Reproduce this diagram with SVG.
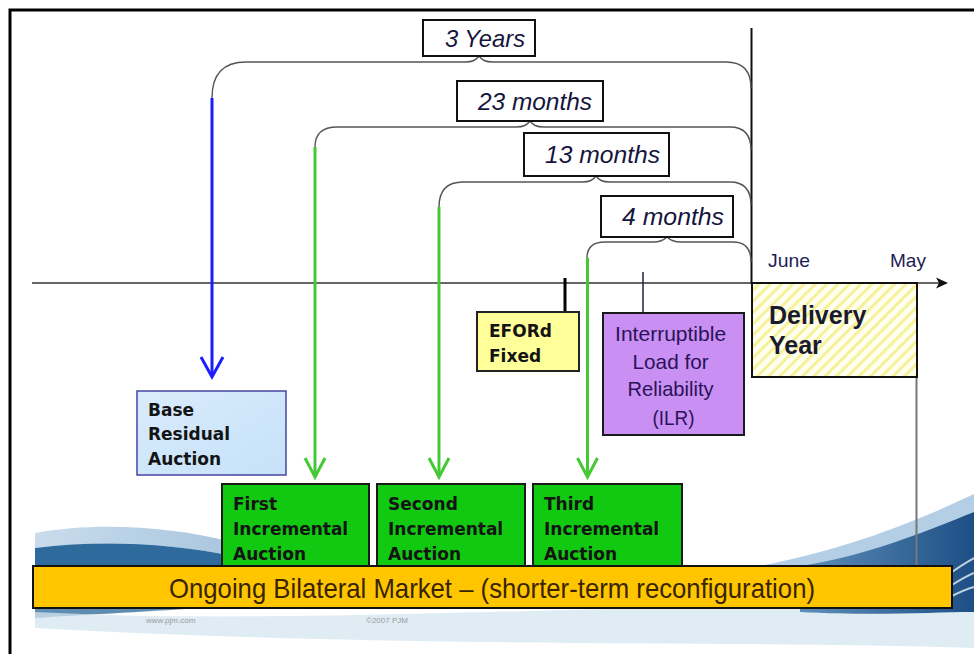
<svg xmlns="http://www.w3.org/2000/svg" width="974" height="654" viewBox="0 0 974 654">
  <defs>
    <pattern id="hatch" width="8" height="8" patternUnits="userSpaceOnUse" patternTransform="rotate(45)">
      <rect width="8" height="8" fill="#fffff0"/>
      <rect width="3" height="8" fill="#f6f19a"/>
    </pattern>
    <linearGradient id="baseFill" x1="0" y1="0" x2="1" y2="1">
      <stop offset="0" stop-color="#d9ecfc"/>
      <stop offset="1" stop-color="#c6e1f8"/>
    </linearGradient>
    <linearGradient id="waveDark" x1="0" y1="0" x2="1" y2="0">
      <stop offset="0" stop-color="#5f8fb8"/>
      <stop offset="1" stop-color="#1d4f86"/>
    </linearGradient>
    <linearGradient id="waveLight" x1="0" y1="0" x2="1" y2="0">
      <stop offset="0" stop-color="#c9dcec"/>
      <stop offset="1" stop-color="#a9c6df"/>
    </linearGradient>
  </defs>
  <style>
    .frame { fill: none; stroke: #000; stroke-width: 3; }
    .brace { fill: none; stroke: #555; stroke-width: 1.4; }
    .span { fill: #fff; stroke: #111; stroke-width: 2; }
    .spanText { font-family: "Liberation Sans", Arial, sans-serif; font-style: italic; font-size: 24px; fill: #15153d; }
    .bold { font-family: "DejaVu Sans", Verdana, sans-serif; font-weight: bold; font-size: 17px; fill: #141414; }
    .green { fill: #10c910; stroke: #1a1a1a; stroke-width: 2; }
    .blueArrow { fill: none; stroke: #1c1cff; stroke-width: 3; }
    .greenArrow { fill: none; stroke: #44c934; stroke-width: 3; }
    .month { font-family: "Liberation Sans", Arial, sans-serif; font-size: 19px; fill: #1d1d55; }
  </style>

  <!-- background swoosh -->
  <g id="wave">
    <path d="M35,533 C95,522 170,526 232,542 L232,556 C170,543 100,540 35,548 Z" fill="url(#waveLight)"/>
    <path d="M35,548 C100,540 170,543 232,556 L232,566 L35,566 Z" fill="#2f6a9c"/>
    <path d="M35,608 L200,608 C140,612 80,615 35,618 Z" fill="#3a6f9e" opacity="0.8"/>
    <path d="M35,612 C300,626 600,602 974,606 L974,648 C700,640 400,648 35,628 Z" fill="#d6e5f0" opacity="0.75"/>
    <path d="M760,566 C850,548 915,522 974,494 L974,512 C920,538 860,558 800,566 Z" fill="#b4cfe5"/>
    <path d="M800,566 C865,556 920,534 974,512 L974,612 C930,612 880,616 800,612 Z" fill="url(#waveDark)"/>
    <path d="M952,585 C960,580 967,576 974,573 M952,596 C960,592 967,589 974,587 M952,572 C960,566 967,562 974,558" fill="none" stroke="#e8f1f8" stroke-width="2" opacity="0.8"/>
  </g>

  <!-- outer frame -->
  <path class="frame" d="M10,654 L10,10 L974,10"/>

  <!-- footer -->
  <g id="footer" font-family="Liberation Sans, Arial, sans-serif" font-size="8" fill="#9a9a9a">
    <text x="146" y="623">www.pjm.com</text>
    <text x="366" y="623">©2007 PJM</text>
  </g>

  <!-- connectors: time axis, brackets and arrows -->
  <g id="connectors">
    <line x1="32" y1="283" x2="940" y2="283" stroke="#333" stroke-width="1.6"/>
    <path d="M936,277.5 L948,283 L936,288.5 L939,283 Z" fill="#111"/>
    <line x1="751.5" y1="28" x2="751.5" y2="284" stroke="#111" stroke-width="2"/>
    <line x1="916.5" y1="377" x2="916.5" y2="566" stroke="#777" stroke-width="2"/>

    <!-- span brackets -->
    <path class="brace" d="M212,98 Q212,62 246,62 L465,62 C473,62 476,60 479,56 C482,60 485,62 493,62 L726,62 Q751,62 751,88"/>
    <path class="brace" d="M315,147 Q315,127 337,127 L516,127 C524,127 527,125 530,121 C533,125 536,127 544,127 L730,127 Q751,127 751,150"/>
    <path class="brace" d="M439,207 Q439,182 463,182 L582,182 C590,182 593,180 596,176 C599,180 602,182 610,182 L730,182 Q751,182 751,205"/>
    <path class="brace" d="M587,258 Q587,242 605,242 L653,242 C661,242 664,240 667,237 C670,240 673,242 681,242 L733,242 Q751,242 751,262"/>

    <!-- auction arrows -->
    <line class="blueArrow" x1="212" y1="98" x2="212" y2="376"/>
    <path class="blueArrow" d="M201,357 L212,377 L223,357"/>
    <line class="greenArrow" x1="315" y1="147" x2="315" y2="476"/>
    <path class="greenArrow" d="M305,458 L315,477 L325,458"/>
    <line class="greenArrow" x1="439" y1="207" x2="439" y2="476"/>
    <path class="greenArrow" d="M429,458 L439,477 L449,458"/>
    <line class="greenArrow" x1="587.5" y1="258" x2="587.5" y2="476"/>
    <path class="greenArrow" d="M577.5,458 L587.5,477 L597.5,458"/>

    <!-- milestone ticks -->
    <line x1="565" y1="278" x2="565" y2="312" stroke="#000" stroke-width="3"/>
    <line x1="643" y1="272" x2="643" y2="313" stroke="#22224a" stroke-width="1.5"/>
  </g>

  <!-- span labels -->
  <g id="span-3-years">
    <rect class="span" x="423" y="20" width="112" height="36"/>
    <text class="spanText" x="445" y="47" textLength="80" lengthAdjust="spacingAndGlyphs">3 Years</text>
  </g>
  <g id="span-23-months">
    <rect class="span" x="457" y="81" width="146" height="40"/>
    <text class="spanText" x="478" y="110" textLength="114" lengthAdjust="spacingAndGlyphs">23 months</text>
  </g>
  <g id="span-13-months">
    <rect class="span" x="524" y="133" width="145" height="43"/>
    <text class="spanText" x="545" y="163" textLength="115" lengthAdjust="spacingAndGlyphs">13 months</text>
  </g>
  <g id="span-4-months">
    <rect class="span" x="601" y="196" width="132" height="41"/>
    <text class="spanText" x="622" y="225" textLength="102" lengthAdjust="spacingAndGlyphs">4 months</text>
  </g>

  <!-- delivery year -->
  <g id="delivery-year">
    <text class="month" x="768" y="267" textLength="42" lengthAdjust="spacingAndGlyphs">June</text>
    <text class="month" x="890" y="267" textLength="36" lengthAdjust="spacingAndGlyphs">May</text>
    <rect x="752" y="283" width="165" height="94" fill="url(#hatch)" stroke="#111" stroke-width="2"/>
    <text font-family="Liberation Sans, Arial, sans-serif" font-weight="bold" font-size="25" fill="#1a1a2e">
      <tspan x="769" y="324">Delivery</tspan>
      <tspan x="769" y="354">Year</tspan>
    </text>
  </g>

  <!-- EFORd fixed -->
  <g id="eford-fixed">
    <rect x="477" y="312" width="102" height="59" fill="#ffff99" stroke="#222" stroke-width="2"/>
    <text class="bold">
      <tspan x="489" y="337">EFORd</tspan>
      <tspan x="489" y="362">Fixed</tspan>
    </text>
  </g>

  <!-- ILR -->
  <g id="ilr">
    <rect x="603" y="313" width="141" height="122" fill="#c98ff2" stroke="#1a1a1a" stroke-width="2"/>
    <text font-family="Liberation Sans, Arial, sans-serif" font-size="21" fill="#2a1358" text-anchor="middle">
      <tspan x="673.5" y="341" textLength="111" lengthAdjust="spacingAndGlyphs">Interruptible</tspan>
      <tspan x="673.5" y="369" textLength="76" lengthAdjust="spacingAndGlyphs">Load for</tspan>
      <tspan x="673.5" y="396" textLength="86" lengthAdjust="spacingAndGlyphs">Reliability</tspan>
      <tspan x="673.5" y="425" textLength="42" lengthAdjust="spacingAndGlyphs">(ILR)</tspan>
    </text>
  </g>

  <!-- base residual auction -->
  <g id="base-residual-auction">
    <rect x="137" y="391" width="149" height="84" fill="url(#baseFill)" stroke="#4545a0" stroke-width="1.5"/>
    <text class="bold">
      <tspan x="148" y="416">Base</tspan>
      <tspan x="148" y="440">Residual</tspan>
      <tspan x="148" y="465">Auction</tspan>
    </text>
  </g>

  <!-- incremental auctions -->
  <g id="first-incremental-auction">
    <rect class="green" x="222" y="484" width="147" height="88"/>
    <text class="bold" fill="#0d2a0d">
      <tspan x="233" y="510">First</tspan>
      <tspan x="233" y="535">Incremental</tspan>
      <tspan x="233" y="560">Auction</tspan>
    </text>
  </g>
  <g id="second-incremental-auction">
    <rect class="green" x="377" y="484" width="148" height="88"/>
    <text class="bold">
      <tspan x="388" y="510">Second</tspan>
      <tspan x="388" y="535">Incremental</tspan>
      <tspan x="388" y="560">Auction</tspan>
    </text>
  </g>
  <g id="third-incremental-auction">
    <rect class="green" x="533" y="484" width="149" height="88"/>
    <text class="bold">
      <tspan x="544" y="510">Third</tspan>
      <tspan x="544" y="535">Incremental</tspan>
      <tspan x="544" y="560">Auction</tspan>
    </text>
  </g>

  <!-- bilateral market bar -->
  <g id="bilateral-market">
    <rect x="33" y="566" width="919" height="42" fill="#ffc600" stroke="#111" stroke-width="2"/>
    <text x="169" y="598" font-family="Liberation Sans, Arial, sans-serif" font-size="28" fill="#3a2400" textLength="646" lengthAdjust="spacingAndGlyphs">Ongoing Bilateral Market – (shorter-term reconfiguration)</text>
  </g>
</svg>
